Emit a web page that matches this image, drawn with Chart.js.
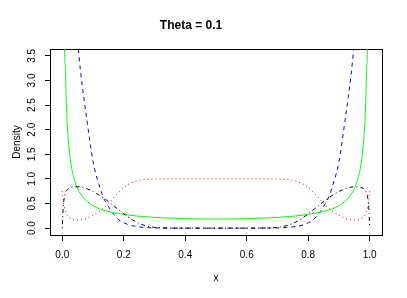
<!DOCTYPE html>
<html>
<head>
<meta charset="utf-8">
<script src="https://cdn.jsdelivr.net/npm/chart.js@4/dist/chart.umd.min.js"></script>
<style>
  body { margin: 0; background: #fff; }
  canvas { display: block; }
</style>
</head>
<body>
<canvas id="densityChart" width="407" height="298"></canvas>
<script>
// x grid shared by all four curves
const xs = [0, 0.003, 0.006, 0.01, 0.015, 0.02, 0.03, 0.04, 0.05, 0.06, 0.07, 0.08, 0.09, 0.1,
  0.11, 0.12, 0.13, 0.14, 0.15, 0.16, 0.17, 0.18, 0.19, 0.2, 0.21, 0.22, 0.23, 0.24, 0.25, 0.27,
  0.3, 0.35, 0.4, 0.45, 0.5, 0.55, 0.6, 0.65, 0.7, 0.73, 0.75, 0.76, 0.77, 0.78, 0.79, 0.8, 0.81,
  0.82, 0.83, 0.84, 0.85, 0.86, 0.87, 0.88, 0.89, 0.9, 0.91, 0.92, 0.93, 0.94, 0.95, 0.96, 0.97,
  0.98, 0.985, 0.99, 0.994, 0.997, 1];

// densities
const blackDens = [0, 0.42, 0.6, 0.71, 0.77, 0.8, 0.83, 0.84, 0.84, 0.835, 0.82, 0.8, 0.775, 0.745,
  0.71, 0.67, 0.63, 0.59, 0.54, 0.49, 0.44, 0.39, 0.34, 0.29, 0.245, 0.2, 0.16, 0.125, 0.095, 0.05,
  0.015, 0.002, 0, 0, 0, 0, 0, 0.002, 0.015, 0.05, 0.095, 0.125, 0.16, 0.2, 0.245, 0.29, 0.34,
  0.39, 0.44, 0.49, 0.54, 0.59, 0.63, 0.67, 0.71, 0.745, 0.775, 0.8, 0.82, 0.835, 0.84, 0.84, 0.83,
  0.8, 0.77, 0.71, 0.6, 0.42, 0];
const redDens = [0.75, 0.56, 0.44, 0.34, 0.27, 0.23, 0.19, 0.17, 0.165, 0.17, 0.18, 0.2, 0.23, 0.26,
  0.3, 0.34, 0.39, 0.44, 0.5, 0.57, 0.64, 0.71, 0.77, 0.82, 0.865, 0.9, 0.93, 0.955, 0.97, 0.988,
  0.997, 1, 1, 1, 1, 1, 1, 1, 0.997, 0.988, 0.97, 0.955, 0.93, 0.9, 0.865, 0.82, 0.77,
  0.71, 0.64, 0.57, 0.5, 0.44, 0.39, 0.34, 0.3, 0.26, 0.23, 0.2, 0.18, 0.17, 0.165, 0.17, 0.19,
  0.23, 0.27, 0.34, 0.44, 0.56, 0.75];
const greenDens = [null, 9.0, 4.3, 3.2, 2.25, 1.76, 1.24, 0.97, 0.8, 0.69, 0.61, 0.545, 0.495, 0.455,
  0.425, 0.395, 0.375, 0.355, 0.34, 0.325, 0.31, 0.3, 0.29, 0.28, 0.27, 0.262, 0.255, 0.248, 0.242, 0.232,
  0.218, 0.203, 0.192, 0.185, 0.183, 0.185, 0.192, 0.203, 0.218, 0.232, 0.242, 0.248, 0.255, 0.262, 0.27, 0.28, 0.29,
  0.3, 0.31, 0.325, 0.34, 0.355, 0.375, 0.395, 0.425, 0.455, 0.495, 0.545, 0.61, 0.69, 0.8, 0.97, 1.24,
  1.76, 2.25, 3.2, 4.3, 9.0, null];
const blueDens = [8.5, 8.0, 7.6, 7.0, 6.3, 5.7, 4.9, 4.3, 3.75, 3.15, 2.65, 2.2, 1.75, 1.35,
  1.08, 0.88, 0.68, 0.54, 0.44, 0.34, 0.26, 0.19, 0.14, 0.11, 0.08, 0.06, 0.045, 0.035, 0.025, 0.012,
  0.004, 0, 0, 0, 0, 0, 0, 0, 0.004, 0.012, 0.025, 0.035, 0.045, 0.06, 0.08, 0.11, 0.14,
  0.19, 0.26, 0.34, 0.44, 0.54, 0.68, 0.88, 1.08, 1.35, 1.75, 2.2, 2.65, 3.15, 3.75, 4.3, 4.9,
  5.7, 6.3, 7.0, 7.6, 8.0, 8.5];

const xTicks = [0, 0.2, 0.4, 0.6, 0.8, 1.0];
const yTicks = [0, 0.5, 1, 1.5, 2, 2.5, 3, 3.5];

const FONT = "'Liberation Sans', Arial, Helvetica, sans-serif";
Chart.defaults.font.family = FONT;
Chart.defaults.color = "#000";

function series(vals) {
  return xs.map((x, i) => ({ x: x, y: vals[i] }));
}

function curve(vals, color, dash) {
  return {
    data: series(vals),
    borderColor: color,
    borderWidth: 1,
    borderDash: dash,
    borderCapStyle: "butt",
    pointRadius: 0,
    fill: false,
    cubicInterpolationMode: "monotone",
  };
}

// R style box round the plot region
const boxPlugin = {
  id: "box",
  beforeDatasetsDraw(chart) {
    const a = chart.chartArea;
    const c = chart.ctx;
    c.save();
    c.strokeStyle = "#000";
    c.lineWidth = 1;
    c.strokeRect(Math.round(a.left) + 0.5, Math.round(a.top) + 0.5,
      Math.round(a.right - a.left), Math.round(a.bottom - a.top));
    c.restore();
  },
};

new Chart(document.getElementById("densityChart").getContext("2d"), {
  type: "line",
  data: {
    datasets: [
      curve(blackDens, "#000000", [1, 3, 4, 3]),
      curve(redDens, "#ff0000", [1, 3]),
      curve(greenDens, "#00ff00", []),
      curve(blueDens, "#0000ff", [4, 4]),
    ],
  },
  options: {
    responsive: false,
    animation: false,
    layout: { padding: { left: 0, right: 25, top: 0, bottom: 0 } },
    plugins: {
      legend: { display: false },
      tooltip: { enabled: false },
      title: {
        display: true,
        text: "Theta = 0.1",
        color: "#000",
        font: { size: 12, weight: "bold" },
        padding: { top: 18, bottom: 16.6 },
      },
    },
    scales: {
      x: {
        type: "linear",
        min: -0.04,
        max: 1.04,
        afterBuildTicks: (s) => { s.ticks = xTicks.map((v) => ({ value: v })); },
        afterFit: (s) => { s.height = 63; },
        ticks: {
          callback: (v) => v.toFixed(1),
          autoSkip: false,
          maxRotation: 0,
          padding: 8,
          font: { size: 10 },
        },
        grid: { drawOnChartArea: false, tickLength: 6, color: "#000" },
        border: { display: false },
        title: { display: true, text: "x", font: { size: 10 }, padding: { top: 0, bottom: 14 } },
      },
      y: {
        min: -0.14,
        max: 3.64,
        afterBuildTicks: (s) => { s.ticks = yTicks.map((v) => ({ value: v })); },
        afterFit: (s) => { s.width = 50; },
        ticks: {
          callback: (v) => v.toFixed(1),
          autoSkip: false,
          minRotation: 90,
          maxRotation: 90,
          crossAlign: "center",
          padding: 6,
          font: { size: 10 },
        },
        grid: { drawOnChartArea: false, tickLength: 5, color: "#000" },
        border: { display: false },
        title: { display: true, text: "Density", font: { size: 10 }, padding: { top: 11, bottom: 0 } },
      },
    },
  },
  plugins: [boxPlugin],
});
</script>
</body>
</html>
